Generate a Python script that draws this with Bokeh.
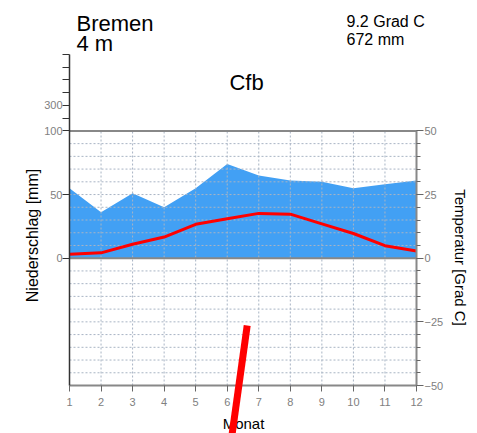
from bokeh.plotting import figure
from bokeh.models import Range1d, LinearAxis, FixedTicker, Label, Arrow
from bokeh.embed import file_html
from bokeh.resources import INLINE

# ---- data ----
months = [1, 2, 3, 4, 5, 6, 7, 8, 9, 10, 11, 12]
precip_mm = [55, 36, 51, 40, 55, 74, 65, 61, 60, 55, 58, 61]
temp_c = [1.6, 2.1, 5.5, 8.3, 13.3, 15.5, 17.6, 17.3, 13.5, 9.7, 4.9, 2.8]
precip_ticks = [0, 50, 100, 200, 300, 400, 500, 600, 700]
precip_tick_labels = ["0", "50", "100", "", "300", "", "", "", ""]
temp_ticks = [-50, -25, 0, 25, 50]
temp_tick_labels = ["\u221250", "\u221225", "0", "25", "50"]
station = "Bremen"
elevation = "4 m"
mean_temp = "9.2 Grad C"
annual_precip = "672 mm"
climate_class = "Cfb"

FONT = "Liberation Sans"
GRAY = "#808080"
W, H = 477, 433

def mm_to_y(mm):
    # 100 mm = 50 degC ; above 100 mm compressed 1:10
    return mm / 2.0 if mm <= 100 else 50 + (mm - 100) / 20.0

# pixel geometry of the diagram box
X1_PX, X12_PX = 69, 416
YM50_PX, Y0_PX = 385, 257.7
KX = (X12_PX - X1_PX) / 11.0
KY = (YM50_PX - Y0_PX) / 50.0

def sx(px):
    return 1 + (px - X1_PX) / KX

def sy(py):
    return (Y0_PX - py) / KY

p = figure(width=W, height=H, min_border=0,
           x_range=Range1d(sx(0), sx(W)), y_range=Range1d(sy(H), sy(0)),
           x_axis_location=None, y_axis_location=None,
           output_backend="svg", toolbar_location=None)
p.outline_line_color = None
p.grid.visible = False
p.background_fill_color = "white"
p.border_fill_color = "white"

# precipitation area
p.varea(x=months, y1=[0] * len(months), y2=[mm_to_y(v) for v in precip_mm],
        fill_color="#42a0f4")

# grid (only inside the -50..50 box)
gx = months[1:-1]
p.segment(x0=gx, y0=[-50] * len(gx), x1=gx, y1=[50] * len(gx),
          line_color="#a8b4c4", line_width=1, line_dash="2 2")
gy = [v for v in range(-45, 50, 5) if v != 0]
p.segment(x0=[1] * len(gy), y0=gy, x1=[12] * len(gy), y1=gy,
          line_color="#a8b4c4", line_width=1, line_dash="2 2")

# zero line and top border of the box
p.segment(x0=[1, 1], y0=[0, 50], x1=[12, 12], y1=[0, 50],
          line_color="#888888", line_width=2)

# temperature line
p.line(months, temp_c, line_color="#ff0000", line_width=3)

# axes (fixed inside the canvas-wide frame)
xaxis = LinearAxis(ticker=FixedTicker(ticks=months, minor_ticks=[]), bounds=(1, 12),
                   fixed_location=-50)
xaxis.axis_line_color = "#888888"
xaxis.axis_line_width = 2
xaxis.major_tick_out = 6
xaxis.major_tick_in = 0
xaxis.major_tick_line_color = "#666666"
xaxis.minor_tick_line_color = None
xaxis.major_label_text_font = FONT
xaxis.major_label_text_font_size = "11px"
xaxis.major_label_text_color = GRAY
xaxis.major_label_standoff = 6
p.add_layout(xaxis, "below")

ypos = [mm_to_y(v) for v in precip_ticks]
yl = LinearAxis(ticker=FixedTicker(ticks=ypos, minor_ticks=[]), bounds=(-50, 80),
                fixed_location=1,
                major_label_overrides={k: s for k, s in zip(ypos, precip_tick_labels)})
yl.axis_line_color = "#333333"
yl.axis_line_width = 1.5
yl.major_tick_out = 7
yl.major_tick_in = 0
yl.major_tick_line_color = "#333333"
yl.minor_tick_line_color = None
yl.major_label_text_font = FONT
yl.major_label_text_font_size = "11px"
yl.major_label_text_color = GRAY
yl.major_label_standoff = 0
p.add_layout(yl, "left")

yr = LinearAxis(ticker=FixedTicker(ticks=temp_ticks, minor_ticks=list(range(-50, 51, 5))),
                bounds=(-50, 50), fixed_location=12,
                major_label_overrides={k: s for k, s in zip(temp_ticks, temp_tick_labels)})
yr.axis_line_color = "#888888"
yr.axis_line_width = 2
yr.major_tick_out = 7
yr.major_tick_in = 0
yr.minor_tick_out = 4
yr.minor_tick_in = 0
yr.major_tick_line_color = "#666666"
yr.minor_tick_line_color = "#666666"
yr.major_label_text_font = FONT
yr.major_label_text_font_size = "11px"
yr.major_label_text_color = GRAY
yr.major_label_standoff = 1
p.add_layout(yr, "right")

# texts
def lab(text, px, py, size, align="left", angle=0, baseline="alphabetic"):
    p.add_layout(Label(x=sx(px), y=sy(py), text=text, text_font=FONT,
                       text_font_size=size, text_color="black", text_align=align,
                       text_baseline=baseline, angle=angle))

lab(station, 76, 23, "22px")
lab(elevation, 76, 43, "22px")
lab(mean_temp, 346, 21, "16px")
lab(annual_precip, 346, 39, "16px")
lab(climate_class, 246, 82, "22px", align="center")
lab("Monat", 243, 423, "15px", align="center")
lab("Niederschlag [mm]", 32, 235, "16px", align="center", angle=1.5708, baseline="middle")
lab("Temperatur [Grad C]", 460, 257, "15px", align="center", angle=-1.5708, baseline="middle")

# red slash mark
p.add_layout(Arrow(start=None, end=None, x_start=sx(246.7), y_start=sy(325),
                   x_end=sx(231.7), y_end=sy(433), line_color="#ff0000",
                   line_width=7, line_cap="butt"))

open("out.html", "w").write(file_html(p, INLINE))
